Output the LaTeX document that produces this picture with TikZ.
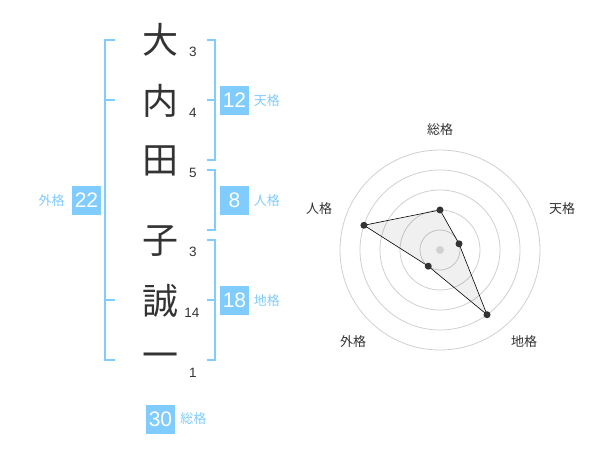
\documentclass[tikz,border=0pt]{standalone}
\usepackage{fontspec}
\setmainfont{Liberation Sans}
\newfontfamily\jpfont{Noto Sans CJK JP}
\usepackage{tikz}
\usetikzlibrary{positioning,calc}
\definecolor{kakublue}{HTML}{80CCFF}
\definecolor{inkgray}{HTML}{333333}
\definecolor{ringgray}{HTML}{D0D0D0}

\begin{document}
\begin{tikzpicture}[x=1pt,y=-1pt]
        \tikzstyle{every node}=[inner sep=0pt]
        \tikzstyle{kanji}=[text=inkgray,font=\jpfont\fontsize{36}{36}\selectfont]
        \tikzstyle{strokes}=[text=inkgray,font=\fontsize{13.5}{13.5}\selectfont]
        \tikzstyle{kakubox}=[fill=kakublue,text=white,minimum size=29pt,font=\fontsize{21}{21}\selectfont]
        \tikzstyle{kakuname}=[text=kakublue,font=\jpfont\fontsize{13}{13}\selectfont]
        \tikzstyle{bracket}=[draw=kakublue,line width=2pt]
        \tikzstyle{axislabel}=[text=inkgray,font=\jpfont\fontsize{13}{13}\selectfont]
        \tikzstyle{dot}=[circle,fill=inkgray,minimum size=7pt]
        \useasboundingbox[fill=white] (0,0) rectangle (600,470);
        % name
        \node[kanji] (c1) at (160,40) {大};
        \node[kanji] (c2) at (160,101) {内};
        \node[kanji] (c3) at (160,161) {田};
        \node[kanji] (c4) at (160,241) {子};
        \node[kanji] (c5) at (160,301) {誠};
        \node[kanji] (c6) at (160,361) {一};
        \node[strokes] (s1) at (193,52) {3};
        \node[strokes] (s2) at (193,113) {4};
        \node[strokes] (s3) at (193,173) {5};
        \node[strokes] (s4) at (193,252) {3};
        \node[strokes] (s5) at (192,313) {14};
        \node[strokes] (s6) at (193,373) {1};
        % brackets
        \draw[bracket] (115,40) -- (105,40) -- (105,360) -- (115,360);
        \draw[bracket] (105,100) -- (115,100) (105,300) -- (115,300);
        \draw[bracket] (207,40) -- (215,40) -- (215,160) -- (207,160) (207,100) -- (215,100);
        \draw[bracket] (207,170) -- (215,170) -- (215,230) -- (207,230);
        \draw[bracket] (207,240) -- (215,240) -- (215,360) -- (207,360) (207,300) -- (215,300);
        % results
        \node[kakubox] (ten) at (234.5,100.5) {12};
        \node[kakuname] (tenname) [right=4.5pt of ten] {天格};
        \node[kakubox] (jin) at (234.5,200.5) {8};
        \node[kakuname] (jinname) [right=4.5pt of jin] {人格};
        \node[kakubox] (chi) at (234.5,300.5) {18};
        \node[kakuname] (chiname) [right=4.5pt of chi] {地格};
        \node[kakubox] (gai) at (86.5,200.5) {22};
        \node[kakuname] (gainame) [left=7pt of gai] {外格};
        \node[kakubox] (sou) at (160.5,419) {30};
        \node[kakuname] (souname) [right=5pt of sou] {総格};
        % radar
        \coordinate (o) at (440,250);
        \foreach \r in {20,40,60,80,100}
            \draw[ringgray,line width=0.8pt] (o) circle[radius=\r];
        \coordinate (psou) at ($(o)+(-90:40)$);
        \coordinate (pten) at ($(o)+(-18:20)$);
        \coordinate (pchi) at ($(o)+(54:80)$);
        \coordinate (pgai) at ($(o)+(126:20)$);
        \coordinate (pjin) at ($(o)+(198:80)$);
        \draw[black,line width=0.6pt,fill=black,fill opacity=0.06] (psou) -- (pten) -- (pchi) -- (pgai) -- (pjin) -- cycle;
        \node[circle,fill=ringgray,minimum size=8pt] (center) at (o) {};
        \foreach \p in {psou,pten,pchi,pgai,pjin}
            \node[dot] (d\p) at (\p) {};
        \node[axislabel] (lsou) at (440,130) {総格};
        \node[axislabel] (lten) at (562,209) {天格};
        \node[axislabel] (lchi) at (524,342) {地格};
        \node[axislabel] (lgai) at (353,342) {外格};
        \node[axislabel] (ljin) at (319,209) {人格};
\end{tikzpicture}
\end{document}
